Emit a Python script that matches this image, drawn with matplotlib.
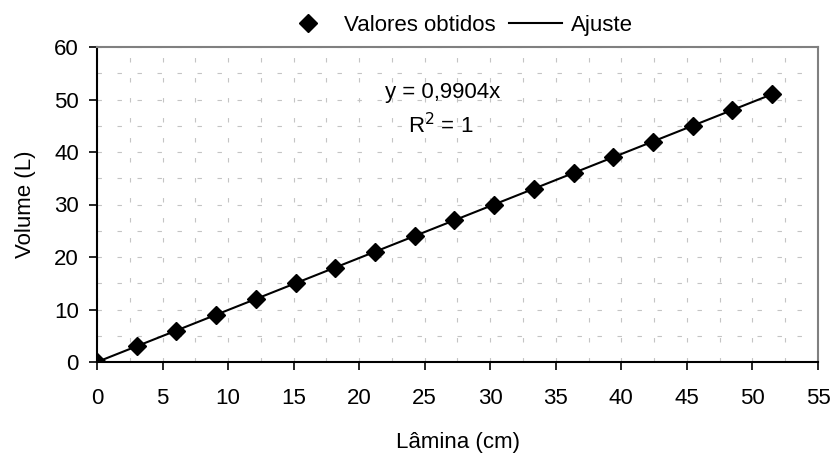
import numpy as np
import matplotlib
matplotlib.use("Agg")
import matplotlib.pyplot as plt
from matplotlib.ticker import MultipleLocator

plt.rcParams['font.family'] = ['Liberation Sans', 'DejaVu Sans']

# valores
volume = [0, 3, 6, 9, 12, 15, 18, 21, 24, 27, 30, 33, 36, 39, 42, 45, 48, 51]
lamina = [0, 3.03, 6.06, 9.09, 12.12, 15.15, 18.17, 21.2, 24.23, 27.26,
          30.29, 33.32, 36.35, 39.38, 42.41, 45.44, 48.47, 51.49]
coef = 0.9904
ajuste_x = [0, 51.49]

fs = 16
fig = plt.figure(figsize=(8.36, 4.53), dpi=100)
ax = fig.add_axes([97/836, 1-362/453, (818-97)/836, (362-47)/453])

ax.plot(ajuste_x, [coef*v for v in ajuste_x], color='black', lw=1.5, label='Ajuste', zorder=3)
ax.plot(lamina, volume, ls='none', marker='D', ms=9.5, color='black', label='Valores obtidos', zorder=4)

ax.set_xlim(0, 55)
ax.set_ylim(0, 60)
ax.xaxis.set_major_locator(MultipleLocator(5))
ax.yaxis.set_major_locator(MultipleLocator(10))
ax.xaxis.set_minor_locator(MultipleLocator(2.5))
ax.yaxis.set_minor_locator(MultipleLocator(5))
ax.grid(which='both', color='#c4c4c4', ls=(0, (4, 14)), lw=0.8)
ax.tick_params(which='minor', length=0)
ax.tick_params(which='major', direction='out', length=6, width=1.2, labelsize=fs)
ax.tick_params(axis='x', pad=13)
ax.tick_params(axis='y', pad=7)

for s in ['top', 'right']:
    ax.spines[s].set_color('#808080')
    ax.spines[s].set_linewidth(1.5)
for s in ['left', 'bottom']:
    ax.spines[s].set_color('black')
    ax.spines[s].set_linewidth(1.5)

ax.set_xlabel('Lâmina (cm)', fontsize=fs, labelpad=16)
ax.set_ylabel('Volume (L)', fontsize=fs, labelpad=13)

ax.text(26.4, 51.4, 'y = 0,9904x', fontsize=fs, ha='center', va='center')
ax.text(26.2, 45.0, 'R$^2$ = 1', fontsize=fs, ha='center', va='center')

h, l = ax.get_legend_handles_labels()
ax.legend(h[::-1], l[::-1], loc='lower center', bbox_to_anchor=(0.5, 1.0), ncol=2,
          frameon=False, fontsize=fs, handlelength=2.4, handletextpad=0.4,
          columnspacing=0.6, borderaxespad=0.1)

fig.savefig('out.png', dpi=100)
